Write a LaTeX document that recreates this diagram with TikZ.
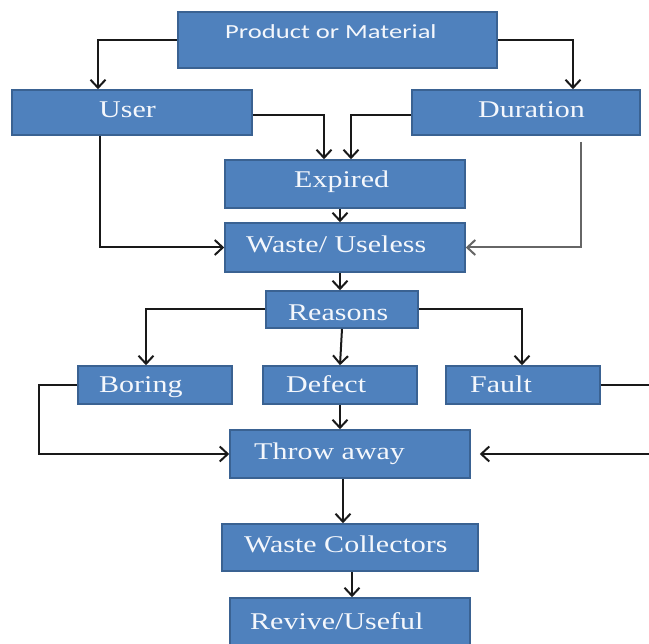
\documentclass[tikz,border=0pt]{standalone}
\usepackage{fontspec}
\usetikzlibrary{arrows.meta}
\newfontfamily\boxserif[FakeStretch=1.25]{Liberation Serif}
\newfontfamily\boxsans[FakeStretch=1.33]{Carlito}
\definecolor{boxfill}{HTML}{4F81BD}
\definecolor{boxline}{HTML}{3A6292}
\definecolor{boxtext}{HTML}{F4F7FC}
\tikzset{
  box/.style={draw=boxline, fill=boxfill, line width=1.6pt, inner sep=0pt},
  txt/.style={anchor=base west, inner sep=0pt, text=boxtext, font=\boxserif\fontsize{24}{28}\selectfont},
  stxt/.style={anchor=base west, inner sep=0pt, text=boxtext, font=\boxsans\fontsize{20}{24}\selectfont},
  arr/.style={draw=black!90, line width=2pt, -{Straight Barb[length=8pt,width=15pt,line width=2pt]}},
}
\begin{document}
\begin{tikzpicture}[x=1pt,y=-1pt]
\fill[white] (0,0) rectangle (649,644);
\useasboundingbox (0,0) rectangle (649,644);

% boxes
\node[box, minimum width=319pt, minimum height=56pt] (prod) at (337.5,40) {};
\node[box, minimum width=240pt, minimum height=45pt] (user) at (132,112.5) {};
\node[box, minimum width=228pt, minimum height=45pt] (dur) at (526,112.5) {};
\node[box, minimum width=240pt, minimum height=48pt] (exp) at (345,184) {};
\node[box, minimum width=240pt, minimum height=49pt] (waste) at (345,247.5) {};
\node[box, minimum width=152pt, minimum height=37pt] (reas) at (342,309.5) {};
\node[box, minimum width=154pt, minimum height=38pt] (boring) at (155,385) {};
\node[box, minimum width=154pt, minimum height=38pt] (defect) at (340,385) {};
\node[box, minimum width=154pt, minimum height=38pt] (fault) at (523,385) {};
\node[box, minimum width=240pt, minimum height=48pt] (throw) at (350,454) {};
\node[box, minimum width=256pt, minimum height=47pt] (wc) at (350,547.5) {};
\node[box, minimum width=240pt, minimum height=52pt] (rev) at (350,624) {};

% texts
\node[stxt] (prodT) at (225,39) {Product or Material};
\node[txt] (userT) at (99,118) {User};
\node[txt] (durT) at (478,118) {Duration};
\node[txt] (expT) at (294,188) {Expired};
\node[txt] (wasteT) at (246,253) {Waste/ Useless};
\node[txt] (reasT) at (288,321) {Reasons};
\node[txt] (boringT) at (99,393) {Boring};
\node[txt] (defectT) at (286,393) {Defect};
\node[txt] (faultT) at (470,393) {Fault};
\node[txt] (throwT) at (254,460) {Throw away};
\node[txt] (wcT) at (244,553) {Waste Collectors};
\node[txt] (revT) at (250,630) {Revive/Useful};

% connectors
\draw[arr] (prod.west) -| ([xshift=-34pt]user.north);
\draw[arr] (prod.east) -| ([xshift=47pt]dur.north);
\draw[arr] ([yshift=-3pt]user.east) -| ([xshift=-21pt]exp.north);
\draw[arr] ([yshift=-3pt]dur.west) -| ([xshift=6pt]exp.north);
\draw[arr] ([xshift=-32pt]user.south) |- (waste.west);
\draw[arr, draw=black!60] ([xshift=55pt,yshift=-6pt]dur.south) |- (waste.east);
\draw[arr] ([xshift=-5pt]exp.south) -- ([xshift=-5pt]waste.north);
\draw[arr] ([xshift=-5pt]waste.south) -- ([xshift=-2pt]reas.north);
\draw[arr] (reas.west) -| ([xshift=-9pt]boring.north);
\draw[arr] (reas.south) -- (defect.north);
\draw[arr] (reas.east) -| ([xshift=-1pt]fault.north);
\coordinate (bturn) at (39,385);
\draw[arr] (boring.west) -- (bturn) |- (throw.west);
\coordinate (fturn) at (660,385);
\coordinate (throwR) at ([xshift=9pt]throw.east);
\draw[arr] (fault.east) -- (fturn) |- (throwR);
\draw[arr] (defect.south) -- ([xshift=-10pt]throw.north);
\draw[arr] ([xshift=-7pt]throw.south) -- ([xshift=-7pt]wc.north);
\draw[arr] ([xshift=2pt]wc.south) -- ([xshift=2pt]rev.north);
\end{tikzpicture}
\end{document}
